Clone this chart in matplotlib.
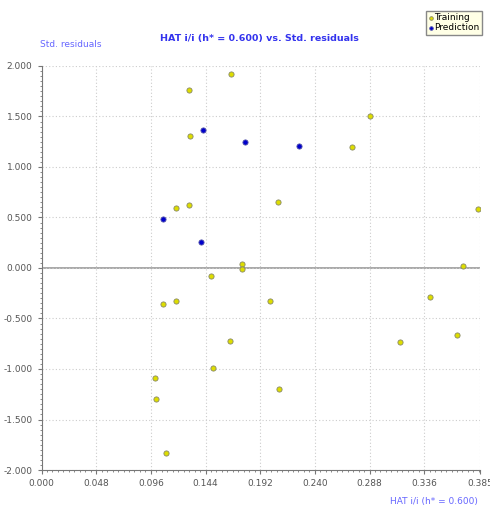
import matplotlib.pyplot as plt
import numpy as np

# Training set (leverage, std. residual)
train_hat = [0.1295, 0.166, 0.130, 0.118, 0.1295, 0.2077, 0.2723, 0.2884, 0.383,
             0.3698, 0.341, 0.3147, 0.3648, 0.2003, 0.176, 0.176, 0.1488, 0.1069,
             0.1184, 0.1655, 0.1509, 0.2085, 0.0999, 0.1005, 0.1093]
train_res = [1.765, 1.92, 1.307, 0.597, 0.627, 0.653, 1.198, 1.505, 0.581,
             0.023, -0.284, -0.733, -0.660, -0.330, 0.040, -0.007, -0.079, -0.36,
             -0.327, -0.726, -0.987, -1.198, -1.086, -1.30, -1.835]

# Prediction set
pred_hat = [0.1415, 0.179, 0.2263, 0.1067, 0.140]
pred_res = [1.37, 1.245, 1.211, 0.488, 0.257]

xticks = [0.000, 0.048, 0.096, 0.144, 0.192, 0.240, 0.288, 0.336, 0.385]
yticks = [-2.0, -1.5, -1.0, -0.5, 0.0, 0.5, 1.0, 1.5, 2.0]

fig = plt.figure(figsize=(4.9, 5.08), dpi=100)
ax = fig.add_axes([0.0847, 0.0748, 0.8949, 0.7953])

ax.axhline(0, color='#999999', lw=1.2, zorder=1)
ax.scatter(train_hat, train_res, s=14, c='#dddd00', edgecolors='#888866',
           linewidths=0.6, zorder=3, label='Training')
ax.scatter(pred_hat, pred_res, s=14, c='#0000cc', edgecolors='#5555aa',
           linewidths=0.6, zorder=3, label='Prediction')

ax.set_xlim(0, 0.385)
ax.set_ylim(-2, 2)
ax.set_xticks(xticks)
ax.set_xticklabels(['%.3f' % v for v in xticks])
ax.set_yticks(yticks)
ax.set_yticklabels(['%.3f' % v for v in yticks])
ax.set_xticks(np.arange(0, 0.385, 0.0048), minor=True)
ax.set_yticks(np.arange(-2, 2.001, 0.05), minor=True)

ax.grid(True, which='major', color='#cccccc', ls=(0, (1, 2)), lw=0.8)
for s in ['top', 'right']:
    ax.spines[s].set_visible(False)
for s in ['left', 'bottom']:
    ax.spines[s].set_color('#777777')
ax.tick_params(which='both', colors='#777777', labelcolor='#555555',
               labelsize=6.5, direction='out')
ax.tick_params(which='major', length=3)
ax.tick_params(which='minor', length=1.5)

fig.text(0.53, 0.925, 'HAT i/i (h* = 0.600) vs. Std. residuals', ha='center',
         va='center', color='#3333ee', fontsize=6.8, fontweight='bold')
fig.text(0.082, 0.913, 'Std. residuals', ha='left', va='center',
         color='#6666ff', fontsize=6.5)
fig.text(0.975, 0.012, 'HAT i/i (h* = 0.600)', ha='right', va='center',
         color='#6666ff', fontsize=6.5)

leg = fig.legend(loc='upper right', bbox_to_anchor=(0.984, 0.979), fontsize=6.5,
                 facecolor='#ffffe6', edgecolor='#888888', fancybox=False,
                 framealpha=1, handlelength=0.4, handletextpad=0.2,
                 borderpad=0.3, labelspacing=0.1, borderaxespad=0,
                 markerscale=0.7)

fig.savefig('out.png', dpi=100)
